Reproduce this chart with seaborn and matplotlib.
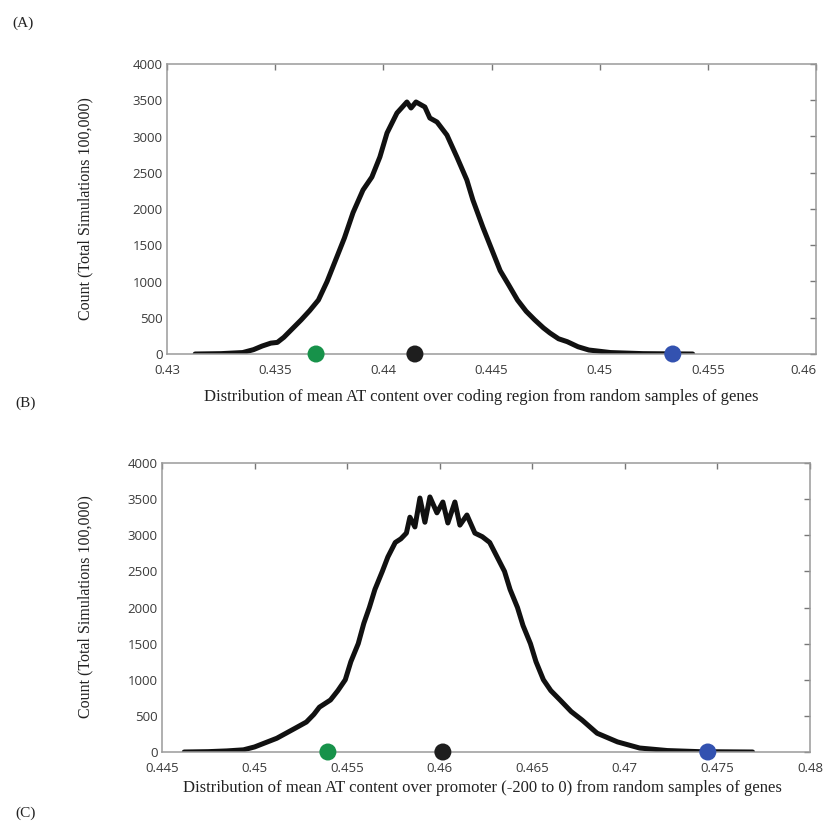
import matplotlib
matplotlib.use("Agg")
import matplotlib.pyplot as plt
import seaborn as sns
import pandas as pd

sns.set_style("white")

# ---------------- data ----------------
a_x = [0.4313, 0.4325, 0.4335, 0.4340, 0.4344, 0.4348, 0.4351, 0.4354, 0.4358, 0.4362,
       0.4366, 0.4370, 0.4374, 0.4378, 0.4382, 0.4386, 0.43906, 0.43947, 0.43984, 0.44017,
       0.44063, 0.44109, 0.44128, 0.44151, 0.44192, 0.44215, 0.44248, 0.44294, 0.44340,
       0.44386, 0.44414, 0.4446, 0.4450, 0.4454, 0.4458, 0.4462, 0.4466, 0.4470, 0.4474,
       0.4477, 0.4481, 0.4485, 0.4490, 0.4495, 0.4505, 0.4520, 0.4543]
a_y = [0, 5, 20, 60, 110, 150, 160, 230, 350, 470,
       600, 745, 1000, 1300, 1600, 1950, 2262, 2441, 2717, 3048,
       3324, 3476, 3393, 3476, 3407, 3255, 3200, 3020, 2717,
       2400, 2124, 1750, 1450, 1150, 950, 745, 590, 470, 360,
       290, 210, 170, 100, 55, 20, 5, 0]

b_x = [0.4462, 0.4475, 0.4485, 0.4494, 0.4500, 0.4507, 0.4512, 0.4517, 0.4522, 0.4528,
       0.4532, 0.4535, 0.4541, 0.4545, 0.4549, 0.4552, 0.4556, 0.4559, 0.4562, 0.4565,
       0.4569, 0.4572, 0.4576, 0.4579, 0.4582, 0.45839, 0.45866, 0.45893, 0.45920, 0.45947,
       0.45985, 0.46017, 0.46044, 0.46082, 0.46109, 0.46147, 0.46190, 0.4623, 0.4627, 0.4631,
       0.4635, 0.4638, 0.4642, 0.4645, 0.4649, 0.4652, 0.4656, 0.4660, 0.4665, 0.4671,
       0.4677, 0.4685, 0.4696, 0.4708, 0.4723, 0.4740, 0.4769]
b_y = [0, 5, 15, 30, 70, 140, 190, 260, 330, 415,
       520, 620, 720, 850, 1000, 1250, 1500, 1780, 2000, 2250,
       2500, 2700, 2900, 2950, 3030, 3250, 3115, 3515, 3180, 3530,
       3310, 3460, 3170, 3460, 3140, 3280, 3030, 2980, 2900, 2700,
       2500, 2250, 2000, 1750, 1500, 1250, 1000, 850, 720, 560,
       440, 260, 140, 55, 20, 5, 0]

a_marks = [0.43689, 0.44146, 0.45338]
b_marks = [0.45396, 0.46017, 0.47448]
mark_colors = ["#17924a", "#1e1e1e", "#3352b0"]

a_xticks = [0.43, 0.435, 0.44, 0.445, 0.45, 0.455, 0.46]
a_xticklabels = ["0.43", "0.435", "0.44", "0.445", "0.45", "0.455", "0.46"]
b_xticks = [0.445, 0.45, 0.455, 0.46, 0.465, 0.47, 0.475, 0.48]
b_xticklabels = ["0.445", "0.45", "0.455", "0.46", "0.465", "0.47", "0.475", "0.48"]
yticks = [0, 500, 1000, 1500, 2000, 2500, 3000, 3500, 4000]

ylabel = "Count (Total Simulations 100,000)"
a_xlabel = "Distribution of mean AT content over coding region from random samples of genes"
b_xlabel = "Distribution of mean AT content over promoter (-200 to 0) from random samples of genes"

# ---------------- figure ----------------
W, H = 827, 821
fig = plt.figure(figsize=(W / 100, H / 100), dpi=100)

def fx(px):
    return px / W

def fy(py):
    return 1 - py / H

ax1 = fig.add_axes([fx(167), fy(354), (816 - 167) / W, (354 - 64) / H])
ax2 = fig.add_axes([fx(162), fy(752), (810 - 162) / W, (752 - 463) / H])

serif = ["Liberation Serif", "DejaVu Serif"]
spine_col = "#9a9a9a"

def style(ax, xticks, xticklabels, xlim):
    ax.set_xlim(*xlim)
    ax.set_ylim(0, 4000)
    ax.set_xticks(xticks)
    ax.set_xticklabels(xticklabels)
    ax.set_yticks(yticks)
    ax.set_yticklabels([str(v) for v in yticks])
    for s in ax.spines.values():
        s.set_visible(True)
        s.set_color(spine_col)
        s.set_linewidth(1.1)
    ax.tick_params(axis="both", direction="in", length=4, width=1.0, color="#777777",
                   top=True, right=True, labelsize=9.5, labelcolor="#3a3a3a")
    ax.tick_params(axis="x", pad=7)
    ax.tick_params(axis="y", pad=3)
    for lab in ax.get_xticklabels() + ax.get_yticklabels():
        lab.set_family("Open Sans")
    ax.set_xlabel("")
    ax.set_ylabel("")
    ax.grid(False)

dfa = pd.DataFrame({"x": a_x, "y": a_y})
dfb = pd.DataFrame({"x": b_x, "y": b_y})

sns.lineplot(data=dfa, x="x", y="y", ax=ax1, color="#111111", linewidth=3.6,
             sort=False, solid_joinstyle="round", solid_capstyle="round")
sns.lineplot(data=dfb, x="x", y="y", ax=ax2, color="#111111", linewidth=3.6,
             sort=False, solid_joinstyle="round", solid_capstyle="round")

for ax, marks in ((ax1, a_marks), (ax2, b_marks)):
    mdf = pd.DataFrame({"x": marks, "y": [0] * len(marks), "c": ["g", "k", "b"]})
    sns.scatterplot(data=mdf, x="x", y="y", hue="c", palette=mark_colors, s=150,
                    edgecolor="none", ax=ax, legend=False, clip_on=False, zorder=5)

style(ax1, a_xticks, a_xticklabels, (0.43, 0.46))
style(ax2, b_xticks, b_xticklabels, (0.445, 0.48))

# keep the last tick label of the top panel inside the canvas
ax1.get_xticklabels()[-1].set_horizontalalignment("right")

# axis labels as figure text
fig.text(fx(481), fy(397), a_xlabel, family=serif, fontsize=12, color="#222222",
         ha="center", va="center")
fig.text(fx(482), fy(788), b_xlabel, family=serif, fontsize=12, color="#222222",
         ha="center", va="center")
fig.text(fx(85), fy(209), ylabel, family=serif, fontsize=11.5, color="#222222",
         ha="center", va="center", rotation=90)
fig.text(fx(85), fy(607), ylabel, family=serif, fontsize=11.5, color="#222222",
         ha="center", va="center", rotation=90)

# panel letters
fig.text(fx(12), fy(23), "(A)", family=serif, fontsize=11, color="#222222", ha="left", va="center")
fig.text(fx(15), fy(403), "(B)", family=serif, fontsize=11, color="#222222", ha="left", va="center")
fig.text(fx(15), fy(813), "(C)", family=serif, fontsize=11, color="#222222", ha="left", va="center")

fig.savefig("out.png", dpi=100)
